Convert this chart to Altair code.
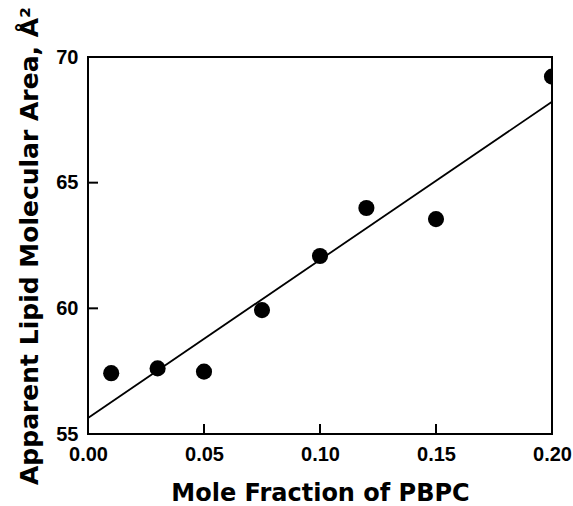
import altair as alt
import pandas as pd

# Data
mole_fraction = [0.01, 0.03, 0.05, 0.075, 0.10, 0.12, 0.15, 0.20]
area = [57.42, 57.61, 57.48, 59.93, 62.08, 63.99, 63.55, 69.22]

fit_x = [0.0, 0.20]
fit_y = [55.64, 68.22]

x_ticks = [0.00, 0.05, 0.10, 0.15, 0.20]
y_ticks = [55, 60, 65, 70]

pts = pd.DataFrame({"x": mole_fraction, "y": area})
fit = pd.DataFrame({"x": fit_x, "y": fit_y})
xt = pd.DataFrame({"x": x_ticks[1:-1]})
yt = pd.DataFrame({"y": y_ticks[1:-1]})

W, H = 464, 377
LABEL_FONT = "Liberation Sans"
TITLE_FONT = "DejaVu Sans"

xscale = alt.Scale(domain=[0.0, 0.2], nice=False, zero=False)
yscale = alt.Scale(domain=[55, 70], nice=False, zero=False)

xaxis = alt.Axis(
    values=x_ticks, format=".2f", title="Mole Fraction of PBPC",
    domain=False, ticks=False, grid=False,
    labelFont=LABEL_FONT, labelFontSize=20, labelFontWeight="bold", labelColor="black",
    labelPadding=10, labelFlush=False, labelOverlap=False,
    titleFont=TITLE_FONT, titleFontSize=24, titleFontWeight="bold", titleColor="black",
    titleBaseline="alphabetic", titleY=66,
)
yaxis = alt.Axis(
    values=y_ticks, format="d", title="Apparent Lipid Molecular Area, Å²",
    domain=False, ticks=False, grid=False,
    labelFont=LABEL_FONT, labelFontSize=20, labelFontWeight="bold", labelColor="black",
    labelPadding=10, labelFlush=False, labelOverlap=False,
    titleFont=TITLE_FONT, titleFontSize=25, titleFontWeight="bold", titleColor="black",
    titleBaseline="alphabetic", titleX=-51, titleAngle=270,
)

points = alt.Chart(pts).mark_circle(size=260, color="black", opacity=1, clip=True).encode(
    x=alt.X("x:Q", scale=xscale, axis=xaxis),
    y=alt.Y("y:Q", scale=yscale, axis=yaxis),
)

line = alt.Chart(fit).mark_line(color="black", strokeWidth=1.8).encode(
    x=alt.X("x:Q", scale=xscale),
    y=alt.Y("y:Q", scale=yscale),
)

xtick = alt.Chart(xt).mark_rule(color="black", strokeWidth=2).encode(
    x=alt.X("x:Q", scale=xscale),
    y=alt.value(H),
    y2=alt.value(H - 10),
)
ytick = alt.Chart(yt).mark_rule(color="black", strokeWidth=2).encode(
    y=alt.Y("y:Q", scale=yscale),
    x=alt.value(0),
    x2=alt.value(10),
)

chart = alt.layer(line, points, xtick, ytick).properties(
    width=W, height=H,
    autosize=alt.AutoSizeParams(type="none"),
    padding={"left": 88, "top": 57, "right": 21, "bottom": 72},
    background="white",
).configure_view(stroke="black", strokeWidth=2)

chart.save("out.html", embed_options={"renderer": "svg", "actions": False})
